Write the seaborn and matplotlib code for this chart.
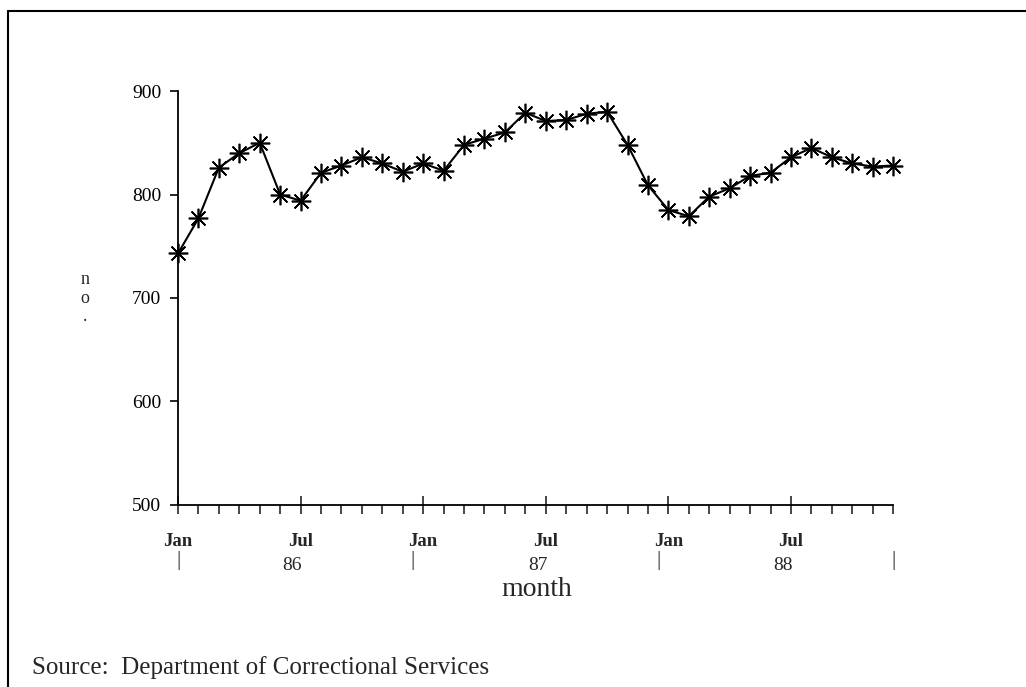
import numpy as np
import pandas as pd
import matplotlib.pyplot as plt
import matplotlib.transforms as mtransforms
import seaborn as sns

# monthly counts, Jan 1986 - Dec 1988
months = ['Jan', 'Feb', 'Mar', 'Apr', 'May', 'Jun', 'Jul', 'Aug', 'Sep', 'Oct', 'Nov', 'Dec']
years = ['86', '87', '88']
counts = [743, 777, 826, 840, 850, 800, 794, 821, 828, 836, 830, 822,
          830, 823, 848, 854, 860, 879, 871, 872, 878, 880, 848, 809,
          785, 779, 798, 806, 818, 821, 836, 845, 836, 830, 827, 828]
yticks = [500, 600, 700, 800, 900]

df = pd.DataFrame({'idx': np.arange(len(counts)), 'count': counts})

sns.set_style('ticks')
plt.rcParams['font.family'] = ['Liberation Serif', 'DejaVu Serif']

fig = plt.figure(figsize=(10.26, 6.87), dpi=100)
ax = fig.add_axes([0.1735, 0.265, 0.697, 0.6025])

sns.lineplot(data=df, x='idx', y='count', ax=ax, color='black', linewidth=1.5,
             marker=(8, 2, 0), markersize=14, markeredgewidth=1.2,
             markeredgecolor='black', clip_on=False)

ax.set_xlim(0, len(counts) - 1)
ax.set_ylim(500, 900)
ax.set_yticks(yticks)
ax.set_yticklabels([str(v) for v in yticks], fontsize=14)
ax.tick_params(axis='y', length=6, width=1.2, direction='out', pad=6, colors='black')

# major ticks on Jan / Jul, minor every month
major = [i for i in range(len(counts)) if i % 6 == 0]
ax.set_xticks(major)
ax.set_xticklabels([months[i % 12] for i in major], fontsize=13.5, fontweight='bold')
ax.set_xticks(range(len(counts)), minor=True)
ax.tick_params(axis='x', which='major', length=13, width=1.2, direction='inout', pad=14)
ax.tick_params(axis='x', which='minor', length=6.5, width=1.2, direction='out')
ax.set_xlabel('')
ax.set_ylabel('')

sns.despine(ax=ax)
for s in ['left', 'bottom']:
    ax.spines[s].set_color('black')
    ax.spines[s].set_linewidth(1.3)

# year row under the month labels
trans = mtransforms.blended_transform_factory(ax.transData, fig.transFigure)
for k, yr in enumerate(years):
    ax.text(k * 12 + 5.6, 1 - 565 / 687, yr, transform=trans, ha='center', va='center', fontsize=14)
for pos, off in zip([0, 12, 24, len(counts) - 1], [0, -0.5, -0.5, 0]):
    ax.text(pos + off, 1 - 561 / 687, '|', transform=trans, ha='center', va='center', fontsize=15)

fig.text(537 / 1026, 1 - 590 / 687, 'month', ha='center', va='center', fontsize=20)
fig.text(85 / 1026, 1 - 298 / 687, 'n\no\n.', ha='center', va='center', fontsize=13, linespacing=1.1)
fig.text(32 / 1026, 1 - 668 / 687, 'Source:  Department of Correctional Services',
         ha='left', va='center', fontsize=18)

# page frame (top and left edge)
fig.add_artist(plt.Line2D([8 / 1026, 1], [1 - 11 / 687, 1 - 11 / 687], transform=fig.transFigure,
                          color='black', linewidth=1.5))
fig.add_artist(plt.Line2D([8 / 1026, 8 / 1026], [0, 1 - 11 / 687], transform=fig.transFigure,
                          color='black', linewidth=1.5))

plt.savefig('out.png', dpi=100)
